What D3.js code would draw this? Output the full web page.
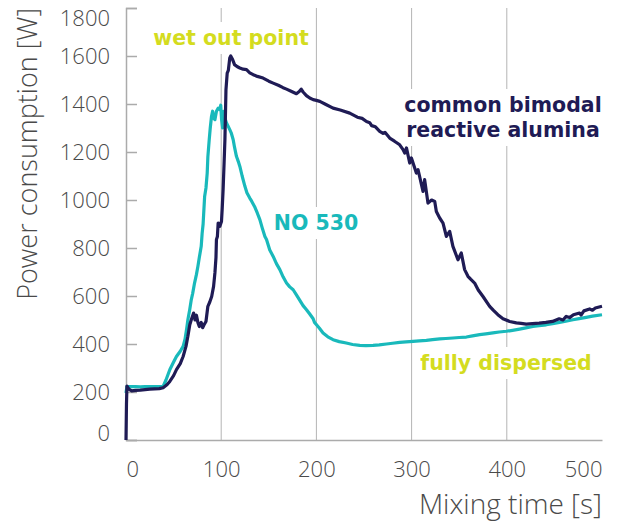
<!DOCTYPE html>
<html>
  <head>
    <meta charset="utf-8" />
    <title>power consumption vs mixing time</title>
    <script src="https://d3js.org/d3.v7.min.js"></script>
    <style>
      body {
        margin: 0;
        background: #fff;
      }
      .tick text {
        font-family: "Open Sans", "Noto Sans", sans-serif;
        font-weight: 300;
        font-size: 22px;
        fill: #4a4a4a;
      }
      .title {
        font-family: "Open Sans", "Noto Sans", sans-serif;
        font-weight: 300;
        fill: #4a4a4a;
      }
      .note {
        font-family: "DejaVu Sans", Verdana, sans-serif;
        font-weight: bold;
        font-size: 20.5px;
      }
    </style>
  </head>
  <body>
    <script>
      // ticks
      const xTicks = [0, 100, 200, 300, 400, 500];
      const yTicks = [0, 200, 400, 600, 800, 1000, 1200, 1400, 1600, 1800];

      // common bimodal reactive alumina: [time s, power W]
      const bimodal = [
        [0, 0], [0.5, 150], [1, 225], [3, 212], [6, 205], [10, 207], [15, 208],
        [20, 210], [25, 212], [30, 213], [35, 214], [39, 218], [43, 230], [46, 244],
        [50, 268], [53, 293], [57, 318], [60, 348], [63, 390], [65, 432], [67, 480],
        [68.6, 501], [71, 529], [72.5, 500], [74, 520], [75.5, 490], [77, 473],
        [79, 490], [80.5, 468], [82, 480], [84, 494], [86, 557], [88, 575], [90, 598],
        [92, 640], [93.4, 696], [94.5, 760], [95, 835], [96, 848], [96.8, 904],
        [98.5, 890], [100.3, 911], [101, 960], [102, 1043], [103, 1150], [103.9, 1251],
        [105, 1459], [106.3, 1529], [107.5, 1540], [109, 1592], [110, 1600], [112, 1585],
        [114, 1564], [117, 1555], [119.6, 1550], [123, 1545], [126.6, 1543], [130, 1530],
        [133.6, 1522], [138, 1515], [144, 1508], [150, 1495], [154.6, 1487], [160, 1478],
        [165, 1468], [168.6, 1462], [174, 1452], [179, 1443], [182, 1452], [184, 1462],
        [186, 1450], [189.5, 1435], [193, 1425], [196.6, 1418], [200, 1415], [203.6, 1411],
        [210, 1398], [217.5, 1383], [225, 1375], [235, 1362], [243, 1345], [248, 1340],
        [252.6, 1327], [256, 1322], [258, 1310], [262, 1305], [266.5, 1286], [270, 1278],
        [272, 1282], [277, 1258], [282, 1245], [287.5, 1230], [291, 1210], [292.8, 1196],
        [294.6, 1217], [298, 1154], [299.8, 1175], [305, 1112], [306.8, 1126], [312, 1036],
        [313.7, 1085], [317.2, 987], [321, 1000], [324.3, 994], [326, 952], [329.5, 925],
        [333, 904], [336.5, 848], [340, 869], [343.4, 807], [348.7, 751], [352.2, 779],
        [355.7, 710], [359.2, 682], [362, 670], [366.2, 654], [370, 625], [375, 598],
        [382, 557], [386, 540], [390.6, 522], [396, 505], [403, 494], [410, 488],
        [415, 486], [420.4, 483], [427, 485], [434, 487], [441, 490], [448, 494],
        [455, 505], [459, 500], [462.4, 515], [466, 510], [470, 522], [476.4, 529],
        [478, 521], [481, 538], [487, 546], [490, 541], [493, 550], [500, 557]
      ];

      // NO 530: [time s, power W]
      const no530 = [
        [0, 196], [1, 223], [5, 222], [10, 222], [15, 221], [20, 222], [25, 222],
        [30, 222], [35, 223], [39, 223], [42, 250], [46, 293], [50, 325], [53, 348],
        [57, 370], [60, 390], [62, 420], [63.6, 460], [65, 501], [67, 545], [68.6, 585],
        [70, 610], [72, 654], [74, 690], [75.5, 723], [77, 760], [79, 807], [80, 862],
        [81, 900], [82.6, 1015], [84, 1050], [85.3, 1112], [86, 1180], [87.4, 1251],
        [88.5, 1300], [89.8, 1348], [91, 1370], [92, 1340], [93.4, 1335], [95, 1370],
        [96.9, 1383], [98.6, 1376], [99.5, 1395], [100.4, 1335], [101.5, 1300],
        [102.8, 1369], [104, 1340], [105.6, 1321], [107, 1310], [109, 1293], [110.5, 1280],
        [112.6, 1251], [114, 1220], [116, 1182], [118, 1160], [119.6, 1140], [122, 1100],
        [124.9, 1057], [127, 1030], [130, 1008], [132, 995], [135, 973], [138, 945],
        [140.6, 918], [143, 885], [145.9, 848], [147.6, 835], [151, 792], [154.6, 765],
        [158, 735], [161.6, 710], [165, 680], [168.6, 654], [172, 638], [175.6, 626],
        [179, 605], [182.6, 582], [186, 560], [189.6, 543], [193, 525], [196.6, 505],
        [198, 490], [203, 467], [207, 446], [212, 430], [217.5, 418], [224, 410],
        [231.4, 404], [238, 398], [245.5, 394], [252, 393], [259.5, 394], [266, 396],
        [273.6, 400], [280, 403], [287.5, 407], [294, 409], [301.5, 411], [308, 413],
        [315.5, 415], [322, 418], [329.5, 421], [336, 423], [343.4, 425], [350, 427],
        [357.5, 429], [364, 434], [371.5, 439], [378, 442], [385.4, 446], [392, 450],
        [399.5, 453], [406, 457], [413.4, 462], [420, 467], [427.4, 473], [434, 476],
        [441.4, 480], [448, 485], [455.4, 490], [462, 495], [469.4, 501], [476, 506],
        [483.4, 511], [490, 516], [500, 522]
      ];

      const width = 617;
      const height = 521;
      const margin = { top: 8, right: 15, bottom: 81, left: 126 };

      const svg = d3
        .select("body")
        .append("svg")
        .attr("width", width)
        .attr("height", height);

      const x = d3
        .scaleLinear()
        .domain([0, 500])
        .range([margin.left, width - margin.right]);
      const y = d3
        .scaleLinear()
        .domain([0, 1800])
        .range([height - margin.bottom, margin.top]);

      // vertical grid lines
      svg
        .append("g")
        .selectAll("line")
        .data(xTicks.filter((d) => d > 0 && d < 500))
        .join("line")
        .attr("x1", (d) => x(d))
        .attr("x2", (d) => x(d))
        .attr("y1", y(1800))
        .attr("y2", y(0))
        .attr("stroke", "#b4b4b4")
        .attr("stroke-width", 1);

      // y axis, ticks pointing inward
      const yAxis = svg
        .append("g")
        .attr("transform", `translate(${margin.left},0)`)
        .call(
          d3.axisLeft(y).tickValues(yTicks).tickFormat(d3.format("d")).tickSize(-11).tickPadding(16)
        );
      yAxis.select(".domain").attr("stroke", "#ababab").attr("stroke-width", 1.5);
      yAxis.selectAll(".tick line").attr("stroke", "#ababab").attr("stroke-width", 1.5);
      // keep end labels inside the frame
      yAxis.selectAll(".tick text")
        .attr("dy", (d) => (d === 1800 ? "0.78em" : d === 0 ? "0em" : "0.32em"));

      const xAxis = svg
        .append("g")
        .attr("transform", `translate(0,${y(0)})`)
        .call(d3.axisBottom(x).tickValues(xTicks).tickSize(0).tickPadding(21));
      xAxis.select(".domain").attr("stroke", "#ababab").attr("stroke-width", 1.5);
      xAxis.selectAll(".tick text")
        .attr("text-anchor", (d) => (d === 0 ? "start" : d === 500 ? "end" : "middle"));

      // axis titles
      svg
        .append("text")
        .attr("class", "title")
        .attr("transform", "translate(37,8) rotate(-90)")
        .attr("text-anchor", "end")
        .style("font-size", "27px")
        .text("Power consumption [W]");

      svg
        .append("text")
        .attr("class", "title")
        .attr("x", x(500))
        .attr("y", 514)
        .attr("text-anchor", "end")
        .style("font-size", "28px")
        .text("Mixing time [s]");

      // annotations with white backing
      function note(lines, cx, baseline, color) {
        const g = svg.append("g");
        const rect = g.append("rect").attr("fill", "#fff");
        const t = g
          .append("text")
          .attr("class", "note")
          .attr("text-anchor", "middle")
          .attr("fill", color);
        lines.forEach((s, i) => {
          t.append("tspan")
            .attr("x", cx)
            .attr("y", baseline + i * 25)
            .text(s);
        });
        const b = t.node().getBBox();
        rect
          .attr("x", b.x - 6)
          .attr("y", b.y - 4)
          .attr("width", b.width + 12)
          .attr("height", b.height + 8);
      }

      note(["wet out point"], 231, 45, "#d4dc1f");
      note(["NO 530"], 316, 230, "#19b9bb");
      note(["common bimodal", "reactive alumina"], 503, 112, "#1f1b55");
      note(["fully dispersed"], 506, 370, "#d4dc1f");

      const line = d3
        .line()
        .x((d) => x(d[0]))
        .y((d) => y(d[1]));

      svg
        .append("path")
        .datum(no530)
        .attr("fill", "none")
        .attr("stroke", "#19b9bb")
        .attr("stroke-width", 3.2)
        .attr("stroke-linejoin", "round")
        .attr("d", line);

      svg
        .append("path")
        .datum(bimodal)
        .attr("fill", "none")
        .attr("stroke", "#1f1b55")
        .attr("stroke-width", 3.2)
        .attr("stroke-linejoin", "round")
        .attr("d", line);
    </script>
  </body>
</html>
